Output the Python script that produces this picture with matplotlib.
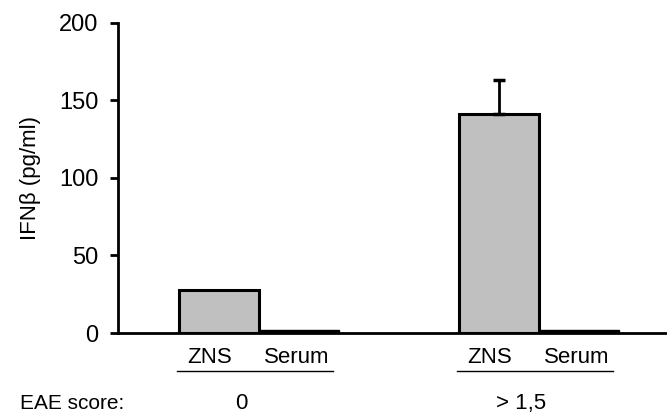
import numpy as np
import matplotlib.pyplot as plt

plt.rcParams['font.family'] = ['Liberation Sans', 'DejaVu Sans']

# data
groups = ['0', '> 1,5']
samples = ['ZNS', 'Serum']
zns = [28, 141]
zns_err = [0, 22]
serum = [2, 2]
yticks = [0, 50, 100, 150, 200]

fig = plt.figure(figsize=(6.67, 4.16), dpi=100)
ax = fig.add_axes([0.177, 0.1995, 0.823, 0.7455])

group_pos = np.array([0.0, 3.5])
zns_x = group_pos
ser_x = group_pos + 1

ax.bar(zns_x, zns, width=1.0, color='#c0c0c0', edgecolor='black', linewidth=2.2)
for x, v, e in zip(zns_x, zns, zns_err):
    if e > 0:
        ax.errorbar(x, v, yerr=[[0], [e]], color='black', capsize=4,
                    elinewidth=2, capthick=2.5, fmt='none')
ax.bar(ser_x, serum, width=1.0, color='black', edgecolor='black', linewidth=1)

ax.set_xlim(-1.26, 5.6)
ax.set_ylim(0, 200)
ax.set_yticks(yticks)
ax.set_xticks([])
ax.spines['top'].set_visible(False)
ax.spines['right'].set_visible(False)
ax.spines['left'].set_linewidth(2)
ax.spines['bottom'].set_linewidth(2)
ax.tick_params(axis='y', direction='out', length=6, width=2, labelsize=17, pad=8)
ax.set_ylabel('IFNβ (pg/ml)', fontsize=16)
ax.yaxis.set_label_coords(-0.14, 0.5)

# sample labels with underline, group labels
trans = ax.get_xaxis_transform()
for g, gx in zip(groups, group_pos):
    ax.text(gx - 0.12, -0.045, samples[0], transform=trans, ha='center', va='top', fontsize=16)
    ax.text(gx + 0.97, -0.045, samples[1], transform=trans, ha='center', va='top', fontsize=16)
    ax.plot([gx - 0.52, gx + 1.43], [-0.123, -0.123], transform=trans, color='black',
            linewidth=1, clip_on=False)
    fig.text(ax.transData.transform((gx + 0.28, 0))[0] / fig.bbox.width, 0.029, g,
             ha='center', va='center', fontsize=16)
fig.text(0.03, 0.029, 'EAE score:', ha='left', va='center', fontsize=15)

fig.savefig('out.png', dpi=100)
